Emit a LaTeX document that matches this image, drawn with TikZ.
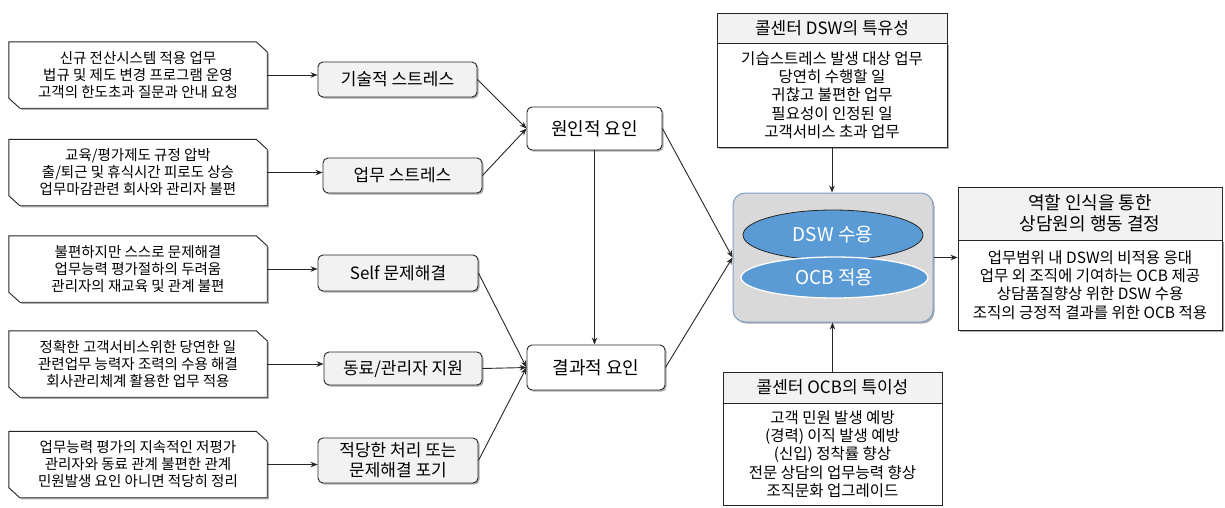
\documentclass[tikz,border=0pt]{standalone}
\usepackage{fontspec}
\setmainfont{Noto Sans CJK KR}
\usetikzlibrary{shapes.misc,shapes.geometric,shadows,arrows.meta}
\pgfdeclarelayer{background}
\pgfsetlayers{background,main}
\definecolor{edge}{HTML}{262626}
\definecolor{hdr}{HTML}{F2F2F2}
\definecolor{midfill}{HTML}{F2F2F2}
\definecolor{cbox}{HTML}{D9D9D9}
\definecolor{cborder}{HTML}{7F9DBF}
\definecolor{ell}{HTML}{5B9BD5}
\tikzset{
  shad/.style={drop shadow={shadow xshift=1.6pt, shadow yshift=-1.6pt, opacity=0.45, fill=black!70}},
  leftbox/.style={rectangle, inner sep=0pt,
    minimum width=258pt, minimum height=66pt, align=center,
    font=\fontsize{14.5}{17}\selectfont},
  midbox/.style={rectangle, rounded corners=5pt, draw=edge, line width=0.9pt, fill=midfill,
    inner sep=0pt, align=center, font=\fontsize{17}{20}\selectfont, shad},
  factor/.style={rectangle, rounded corners=5pt, draw=edge, line width=0.9pt, fill=white,
    inner sep=0pt, align=center, font=\fontsize{18}{21}\selectfont, shad},
  headbox/.style={rectangle, draw=edge, line width=0.9pt, fill=hdr, inner sep=0pt, align=center},
  bodybox/.style={rectangle, draw=edge, line width=0.9pt, fill=white, inner sep=0pt, align=center,
    font=\fontsize{15.5}{18.3}\selectfont},
  arr/.style={draw=edge, line width=0.9pt, -{Stealth[length=7pt,width=5.5pt]}},
}
\begin{document}
\begin{tikzpicture}[x=1pt,y=-1pt]
\useasboundingbox (0,0) rectangle (1225,507);

% left boxes
\node[leftbox] (l1) at (138,75) {신규 전산시스템 적용 업무\\법규 및 제도 변경 프로그램 운영\\고객의 한도초과 질문과 안내 요청};
\node[leftbox] (l2) at (138,172.5) {교육/평가제도 규정 압박\\출/퇴근 및 휴식시간 피로도 상승\\업무마감관련 회사와 관리자 불편};
\node[leftbox] (l3) at (138,269) {불편하지만 스스로 문제해결\\업무능력 평가절하의 두려움\\관리자의 재교육 및 관계 불편};
\node[leftbox] (l4) at (138,364) {정확한 고객서비스위한 당연한 일\\관련업무 능력자 조력의 수용 해결\\회사관리체계 활용한 업무 적용};
\node[leftbox] (l5) at (138,464.5) {업무능력 평가의 지속적인 저평가\\관리자와 동료 관계 불편한 관계\\민원발생 요인 아니면 적당히 정리};

\begin{pgfonlayer}{background}
\foreach \n in {l1,l2,l3,l4,l5}{
  \fill[black!70, opacity=0.45, transform canvas={xshift=1.6pt,yshift=-1.6pt}]
    (\n.north west) -- ([xshift=-11pt]\n.north east) -- ([yshift=-10pt]\n.north east)
    -- (\n.south east) -- ([xshift=11pt]\n.south west) -- ([yshift=10pt]\n.south west) -- cycle;
  \filldraw[fill=white, draw=edge, line width=0.9pt]
    (\n.north west) -- ([xshift=-11pt]\n.north east) -- ([yshift=-10pt]\n.north east)
    -- (\n.south east) -- ([xshift=11pt]\n.south west) -- ([yshift=10pt]\n.south west) -- cycle;
}
\end{pgfonlayer}

% middle boxes
\node[midbox, minimum width=159pt, minimum height=35pt] (t1) at (397.5,79.5) {기술적 스트레스};
\node[midbox, minimum width=159pt, minimum height=35pt] (t2) at (402.5,175.5) {업무 스트레스};
\node[midbox, minimum width=160pt, minimum height=36pt] (t3) at (398,273) {Self 문제해결};
\node[midbox, minimum width=158pt, minimum height=33pt] (t4) at (403,368.5) {동료/관리자 지원};
\node[midbox, minimum width=160pt, minimum height=45pt] (t5) at (398,460.5) {적당한 처리 또는\\문제해결 포기};

% factor boxes
\node[factor, minimum width=135pt, minimum height=43pt] (cause) at (594.5,128.5) {원인적 요인};
\node[factor, minimum width=138pt, minimum height=45pt] (effect) at (596,367.5) {결과적 요인};

% center box
\node[rectangle, rounded corners=12pt, draw=cborder, line width=1pt, fill=cbox,
  minimum width=200pt, minimum height=129pt, shad] (ctr) at (833,257.5) {};
\node[ellipse, draw=edge, line width=0.8pt, fill=ell, minimum width=180pt, minimum height=50pt,
  inner sep=0pt, text=white, font=\fontsize{19}{22}\selectfont] (dsw) at (833,235) {DSW 수용};
\node[ellipse, draw=white, line width=1.3pt, fill=ell, minimum width=187pt, minimum height=41pt,
  inner sep=0pt, text=white, font=\fontsize{19}{22}\selectfont] (ocb) at (834.5,277.5) {OCB 적용};

% top box
\node[headbox, minimum width=230pt, minimum height=30pt, font=\fontsize{17}{20}\selectfont] (topH) at (832,28) {콜센터 DSW의 특유성};
\node[bodybox, minimum width=230pt, minimum height=104pt, shad] (topB) at (832,95) {기습스트레스 발생 대상 업무\\당연히 수행할 일\\귀찮고 불편한 업무\\필요성이 인정된 일\\고객서비스 초과 업무};

% right box
\node[headbox, minimum width=264pt, minimum height=53pt, font=\fontsize{18}{21}\selectfont] (rH) at (1090,213.5) {역할 인식을 통한\\상담원의 행동 결정};
\node[bodybox, minimum width=264pt, minimum height=90pt, shad] (rB) at (1090,285) {업무범위 내 DSW의 비적용 응대\\업무 외 조직에 기여하는 OCB 제공\\상담품질향상 위한 DSW 수용\\조직의 긍정적 결과를 위한 OCB 적용};

% bottom box
\node[headbox, minimum width=219pt, minimum height=31pt, font=\fontsize{17}{20}\selectfont] (botH) at (832.5,387.5) {콜센터 OCB의 특이성};
\node[bodybox, minimum width=219pt, minimum height=102pt] (botB) at (832.5,454) {고객 민원 발생 예방\\(경력) 이직 발생 예방\\(신입) 정착률 향상\\전문 상담의 업무능력 향상\\조직문화 업그레이드};

% connectors
\draw[arr] (l1.east) -- (l1.east -| t1.west);
\draw[arr] (l2.east) -- (l2.east -| t2.west);
\draw[arr] (l3.east) -- (l3.east -| t3.west);
\draw[arr] (l4.east) -- (l4.east -| t4.west);
\draw[arr] (l5.east) -- (l5.east -| t5.west);

\draw[arr] (t1.east) -- (cause.west);
\draw[arr] (t2.east) -- (cause.west);
\draw[arr] (t3.east) -- (effect.west);
\draw[arr] (t4.east) -- (effect.west);
\draw[arr] (t5.east) -- (effect.west);
\draw[arr] (cause.south) -- (cause.south |- effect.north);

\draw[arr] (cause.east) -- (ctr.west);
\draw[arr] (effect.east) -- (ctr.west);
\draw[arr] (topB.south) -- (topB.south |- ctr.north);
\draw[arr] (botH.north) -- (botH.north |- ctr.south);
\draw[arr] (ctr.east) -- (ctr.east -| rB.west);
\end{tikzpicture}
\end{document}
